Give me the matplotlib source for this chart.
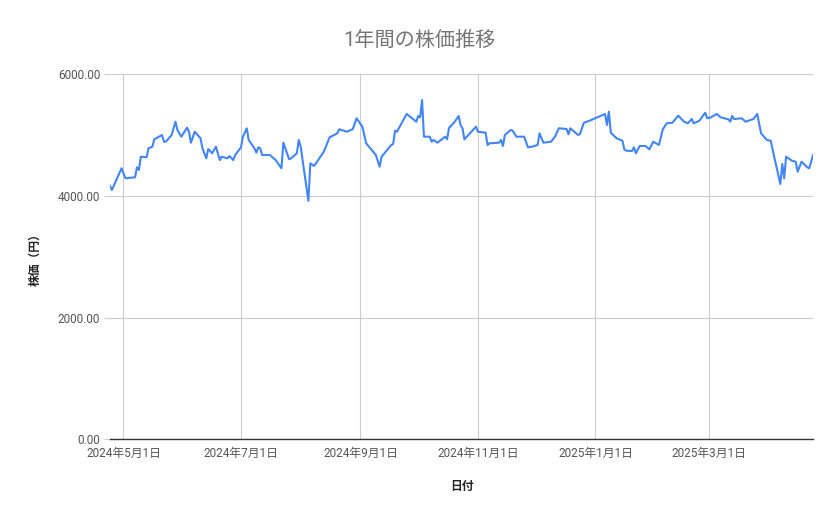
import matplotlib
matplotlib.use("Agg")
import matplotlib.pyplot as plt
import matplotlib.dates as mdates
from matplotlib.ticker import FuncFormatter, MultipleLocator
import pandas as pd

plt.rcParams['font.family'] = ['Roboto', 'Noto Sans CJK JP', 'DejaVu Sans']

# 日付と株価 (チャートから読み取り)
dates = [
    '2024-04-24', '2024-04-25', '2024-04-30', '2024-05-02', '2024-05-07', '2024-05-08',
    '2024-05-09', '2024-05-10', '2024-05-13', '2024-05-14', '2024-05-16', '2024-05-17',
    '2024-05-21', '2024-05-22', '2024-05-23', '2024-05-26', '2024-05-28', '2024-05-29',
    '2024-05-31', '2024-06-03', '2024-06-04', '2024-06-05', '2024-06-07', '2024-06-10',
    '2024-06-11', '2024-06-13', '2024-06-14', '2024-06-16', '2024-06-18', '2024-06-20',
    '2024-06-21', '2024-06-24', '2024-06-25', '2024-06-27', '2024-06-28', '2024-07-01',
    '2024-07-02', '2024-07-04', '2024-07-05', '2024-07-08', '2024-07-09', '2024-07-10',
    '2024-07-11', '2024-07-12', '2024-07-16', '2024-07-19', '2024-07-22', '2024-07-23',
    '2024-07-26', '2024-07-27', '2024-07-30', '2024-07-31', '2024-08-01', '2024-08-05',
    '2024-08-06', '2024-08-08', '2024-08-13', '2024-08-16', '2024-08-20', '2024-08-21',
    '2024-08-25', '2024-08-27', '2024-08-28', '2024-08-30', '2024-09-02', '2024-09-04',
    '2024-09-09', '2024-09-11', '2024-09-12', '2024-09-17', '2024-09-18', '2024-09-19',
    '2024-09-20', '2024-09-25', '2024-09-30', '2024-10-01', '2024-10-02', '2024-10-03',
    '2024-10-04', '2024-10-07', '2024-10-08', '2024-10-09', '2024-10-11', '2024-10-15',
    '2024-10-16', '2024-10-17', '2024-10-20', '2024-10-22', '2024-10-23', '2024-10-24',
    '2024-10-25', '2024-10-31', '2024-11-01', '2024-11-05', '2024-11-06', '2024-11-07',
    '2024-11-12', '2024-11-13', '2024-11-14', '2024-11-15', '2024-11-18', '2024-11-19',
    '2024-11-21', '2024-11-25', '2024-11-27', '2024-11-29', '2024-12-02', '2024-12-03',
    '2024-12-05', '2024-12-09', '2024-12-11', '2024-12-13', '2024-12-17', '2024-12-18',
    '2024-12-19', '2024-12-23', '2024-12-24', '2024-12-26', '2024-12-29', '2025-01-02',
    '2025-01-06', '2025-01-07', '2025-01-08', '2025-01-09', '2025-01-12', '2025-01-15',
    '2025-01-16', '2025-01-17', '2025-01-20', '2025-01-21', '2025-01-22', '2025-01-24',
    '2025-01-27', '2025-01-29', '2025-01-31', '2025-02-02', '2025-02-03', '2025-02-05',
    '2025-02-07', '2025-02-10', '2025-02-13', '2025-02-16', '2025-02-18', '2025-02-20',
    '2025-02-21', '2025-02-24', '2025-02-27', '2025-02-28', '2025-03-02', '2025-03-05',
    '2025-03-07', '2025-03-11', '2025-03-12', '2025-03-13', '2025-03-14', '2025-03-18',
    '2025-03-20', '2025-03-24', '2025-03-26', '2025-03-28', '2025-03-31', '2025-04-02',
    '2025-04-04', '2025-04-07', '2025-04-08', '2025-04-09', '2025-04-10', '2025-04-13',
    '2025-04-15', '2025-04-16', '2025-04-18', '2025-04-21', '2025-04-22', '2025-04-24',
]
prices = [
    4164, 4099, 4456, 4291, 4308, 4472,
    4428, 4647, 4637, 4785, 4811, 4933,
    5004, 4894, 4894, 5004, 5223, 5086,
    4976, 5124, 5058, 4877, 5058, 4950,
    4785, 4620, 4773, 4703, 4811, 4592,
    4647, 4620, 4658, 4592, 4675, 4801,
    4976, 5114, 4922, 4785, 4713, 4801,
    4785, 4675, 4675, 4592, 4456, 4877,
    4604, 4620, 4703, 4922, 4811, 3920,
    4538, 4494, 4729, 4966, 5032, 5098,
    5058, 5086, 5098, 5279, 5141, 4867,
    4675, 4482, 4647, 4839, 4856, 5075,
    5058, 5350, 5223, 5317, 5295, 5580,
    4976, 4976, 4894, 4922, 4877, 4976,
    4933, 5119, 5223, 5317, 5168, 5114,
    4933, 5141, 5058, 5042, 4839, 4867,
    4877, 4922, 4823, 5004, 5086, 5075,
    4976, 4976, 4801, 4811, 4839, 5032,
    4877, 4894, 4976, 5114, 5103, 5015,
    5114, 5004, 5020, 5206, 5239, 5295,
    5350, 5168, 5387, 5042, 4950, 4910,
    4768, 4745, 4740, 4801, 4703, 4823,
    4823, 4768, 4894, 4856, 4839, 5098,
    5196, 5206, 5322, 5223, 5196, 5267,
    5196, 5239, 5371, 5279, 5295, 5350,
    5295, 5262, 5223, 5317, 5267, 5279,
    5223, 5267, 5350, 5032, 4922, 4910,
    4620, 4197, 4527, 4291, 4647, 4581,
    4564, 4400, 4564, 4472, 4456, 4675,
]

title = '1年間の株価推移'
x_label = '日付'
y_label = '株価（円）'

df = pd.DataFrame({'date': pd.to_datetime(dates), 'price': prices})

fig = plt.figure(figsize=(8.39, 5.19), dpi=100)
ax = fig.add_axes([0.1311, 0.1541, 0.838, 0.7024])

ax.plot(df['date'], df['price'], color='#4285F4', linewidth=1.5)

ax.set_xlim(df['date'].iloc[0], df['date'].iloc[-1])
ax.set_ylim(0, 6000)

ax.yaxis.set_major_locator(MultipleLocator(2000))
ax.yaxis.set_major_formatter(FuncFormatter(lambda v, _: f'{v:.2f}'))
ax.xaxis.set_major_locator(mdates.MonthLocator(bymonth=[1, 3, 5, 7, 9, 11]))
ax.xaxis.set_major_formatter(FuncFormatter(
    lambda v, _: (lambda d: f'{d.year}年{d.month}月{d.day}日')(mdates.num2date(v))))

ax.grid(True, color='#cccccc', linewidth=0.8)
ax.set_axisbelow(True)
for side in ['top', 'right', 'left']:
    ax.spines[side].set_visible(False)
ax.spines['bottom'].set_color('#333333')
ax.spines['bottom'].set_linewidth(1.0)

ax.tick_params(axis='y', length=4, color='#cccccc', pad=3, labelsize=8.5, labelcolor='#555555')
ax.tick_params(axis='x', length=0, pad=6, labelsize=8.5, labelcolor='#555555')

ax.set_xlabel(x_label, fontsize=8.5, color='#222222', fontweight='bold', labelpad=14)
ax.set_ylabel(y_label, fontsize=8.5, color='#222222', fontweight='bold', labelpad=12)
fig.suptitle(title, x=0.5, y=0.94, fontsize=14.5, color='#757575')

fig.savefig('out.png', dpi=100)
